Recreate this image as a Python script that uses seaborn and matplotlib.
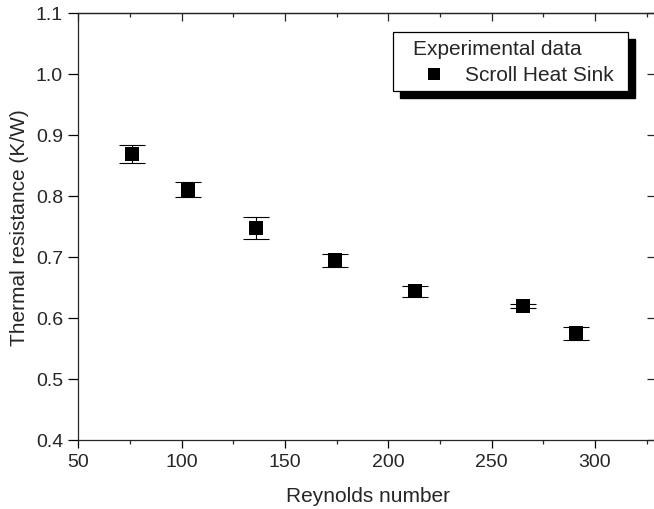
import numpy as np
import pandas as pd
import seaborn as sns
import matplotlib.pyplot as plt
from matplotlib.ticker import MultipleLocator, FormatStrFormatter
from matplotlib.patches import Rectangle

# data
reynolds = [76, 103, 136, 174, 213, 265, 291]
resistance = [0.868, 0.810, 0.747, 0.694, 0.643, 0.619, 0.574]
resistance_err = [0.015, 0.012, 0.018, 0.011, 0.009, 0.003, 0.011]
series_name = "Scroll Heat Sink"
legend_title = "Experimental data"

sns.set_style("ticks")
plt.rcParams['font.family'] = ['Liberation Sans', 'DejaVu Sans']
plt.rcParams['axes.linewidth'] = 0.9

df = pd.DataFrame({"Re": reynolds, "R": resistance, "err": resistance_err})

fig = plt.figure(figsize=(6.54, 5.10), dpi=100)
ax = fig.add_axes([78.3 / 654, 1 - 440.5 / 510, (657 - 78.3) / 654, (440.5 - 14) / 510])

ax.errorbar(df["Re"], df["R"], yerr=df["err"], fmt="none", ecolor="k",
            elinewidth=0.8, capsize=9.4, capthick=0.8, zorder=2)
sns.scatterplot(data=df, x="Re", y="R", marker="s", color="k", s=88,
                linewidth=0, label=series_name, ax=ax, zorder=3)

ax.set_xlim(50, 330)
ax.set_ylim(0.4, 1.1)
ax.xaxis.set_major_locator(MultipleLocator(50))
ax.xaxis.set_minor_locator(MultipleLocator(25))
ax.yaxis.set_major_locator(MultipleLocator(0.1))
ax.yaxis.set_major_formatter(FormatStrFormatter("%.1f"))
ax.tick_params(axis="both", which="major", labelsize=14, color="k", width=0.9)
ax.tick_params(axis="x", which="major", length=5.5, direction="out", pad=4)
ax.tick_params(axis="x", which="minor", length=3, direction="out", width=0.9)
ax.tick_params(axis="y", which="major", length=7, direction="out", pad=4)
ax.spines["right"].set_visible(False)

# inward ticks on the top and right sides
secx = ax.secondary_xaxis("top")
secx.xaxis.set_major_locator(MultipleLocator(50))
secx.xaxis.set_minor_locator(MultipleLocator(25))
secx.tick_params(which="major", direction="in", length=5.5, width=0.9, labeltop=False)
secx.tick_params(which="minor", direction="in", length=3, width=0.9)
secy = ax.secondary_yaxis("right")
secy.yaxis.set_major_locator(MultipleLocator(0.1))
secy.tick_params(direction="in", length=7, width=0.9, labelright=False)

ax.set_xlabel("Reynolds number", fontsize=15, labelpad=12)
ax.set_ylabel("Thermal resistance (K/W)", fontsize=15, labelpad=5)

leg = ax.legend(title=legend_title, loc="upper right", bbox_to_anchor=(0.937, 0.955),
                borderaxespad=0, frameon=False, fontsize=15, title_fontsize=15,
                alignment="left", handletextpad=0.45, labelspacing=0.3,
                borderpad=0.35, markerscale=0.85)

# boxed legend with a solid offset shadow, sized from the legend text
fig.canvas.draw()
bb = leg.get_window_extent()
to_fig = fig.transFigure.inverted()
(x0, y0), (x1, y1) = to_fig.transform([(bb.x0 - 13, bb.y0), (bb.x1 + 7, bb.y1)])
dx, dy = 7 / 654, 7 / 510
ax.add_patch(Rectangle((x0 + dx, y0 - dy), x1 - x0, y1 - y0, transform=fig.transFigure,
                       facecolor="k", edgecolor="k", clip_on=False, zorder=4))
ax.add_patch(Rectangle((x0, y0), x1 - x0, y1 - y0, transform=fig.transFigure,
                       facecolor="white", edgecolor="k", linewidth=0.9, clip_on=False, zorder=4.5))

fig.savefig("out.png", dpi=100)
